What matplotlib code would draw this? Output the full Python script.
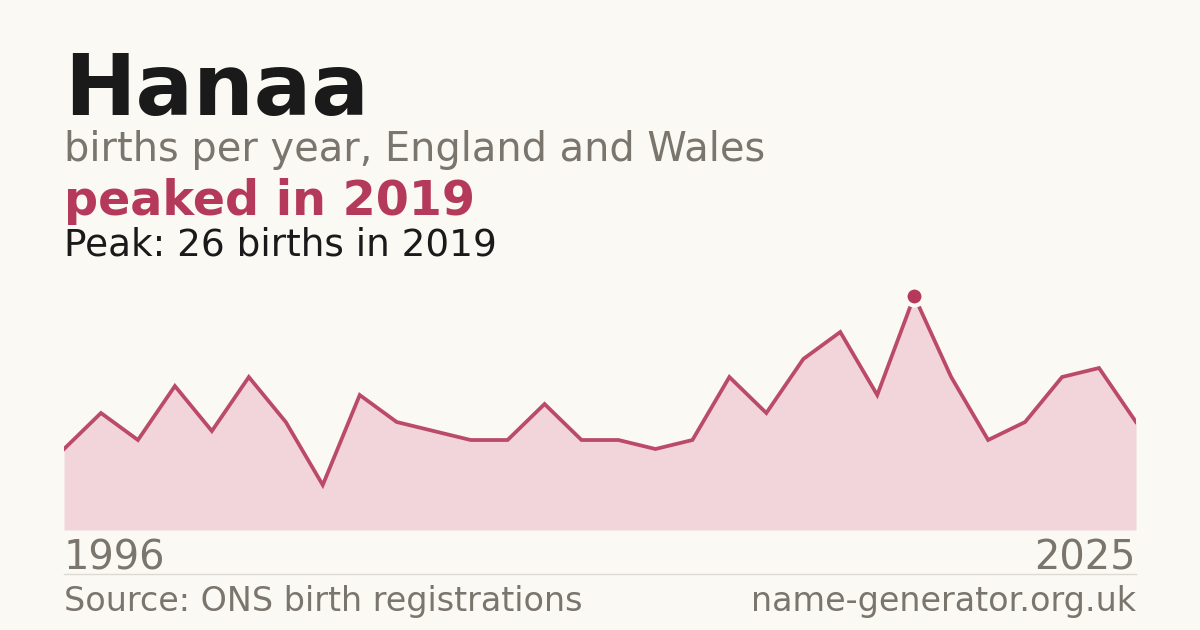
import matplotlib
matplotlib.use("Agg")
import matplotlib.pyplot as plt

years = list(range(1996, 2026))
births = [9, 13, 10, 16, 11, 17, 12, 5, 15, 12, 11, 10, 10, 14, 10, 10, 9, 10,
          17, 13, 19, 22, 15, 26, 17, 10, 12, 17, 18, 12]
name = "Hanaa"
subtitle = "births per year, England and Wales"
trend = "peaked in 2019"
peak_text = "Peak: 26 births in 2019"
source = "Source: ONS birth registrations"
site = "name-generator.org.uk"

W, H = 1200, 630
bg = "#faf9f4"
accent = "#b5395a"
fill = "#f2d5db"
grey = "#7a756d"

plt.rcParams['font.family'] = ['DejaVu Sans']
fig = plt.figure(figsize=(W/100, H/100), dpi=100, facecolor=bg)

def fy(px):
    return 1 - px / H

ax = fig.add_axes([64/W, 1 - 530/H, (1136-64)/W, (530-296)/H])
ax.set_facecolor(bg)
ax.patch.set_alpha(0)
ax.fill_between(years, births, 0, color=fill, linewidth=0, zorder=1)
ax.plot(years, births, color=accent, linewidth=2.7, solid_joinstyle='miter', zorder=2, alpha=0.9)
pi = births.index(max(births))
ax.plot([years[pi]], [births[pi]], marker='o', markersize=13, color=accent,
        markeredgecolor=bg, markeredgewidth=3, zorder=3, clip_on=False)
ax.set_xlim(years[0], years[-1])
ax.set_ylim(0, max(births))
ax.axis('off')

fig.text(64/W, fy(115), name, fontsize=61.5, fontweight='bold', color='#1a1a1a', va='baseline')
fig.text(64/W, fy(161), subtitle, fontsize=28.7, color=grey, va='baseline')
fig.text(64/W, fy(215), trend, fontsize=34.3, fontweight='bold', color=accent, va='baseline')
fig.text(64/W, fy(255), peak_text, fontsize=26.9, color='#1a1a1a', va='baseline')
fig.text(64/W, fy(570), str(years[0]), fontsize=28.7, color=grey, va='baseline')
fig.text(1136/W, fy(570), str(years[-1]), fontsize=28.7, color=grey, va='baseline', ha='right')
fig.add_artist(plt.Line2D([64/W, 1136/W], [fy(574), fy(574)], color='#dddad3', linewidth=1))
fig.text(64/W, fy(611), source, fontsize=24, color=grey, va='baseline')
fig.text(1136/W, fy(611), site, fontsize=24, color=grey, va='baseline', ha='right')

fig.savefig("out.png", dpi=100, facecolor=bg)
